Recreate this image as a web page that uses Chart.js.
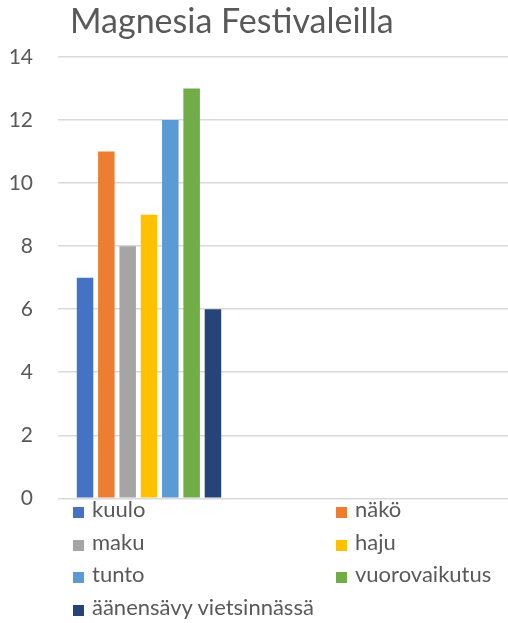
<!DOCTYPE html>
<html>
<head>
<meta charset="utf-8">
<script src="https://cdn.jsdelivr.net/npm/chart.js@4/dist/chart.umd.min.js"></script>
<style>
  html, body { margin: 0; padding: 0; overflow: hidden; background: #fff; width: 508px; height: 623px; }
  #wrap { position: relative; width: 508px; height: 623px; overflow: hidden; }
  #c { position: absolute; left: 0; top: 0; }
  #title { position: absolute; left: 70px; top: 0px; font: 34px Lato, "Open Sans", sans-serif; color: #595959; line-height: 40px; white-space: nowrap; }
  #legend { position: absolute; left: 0; top: 0; width: 508px; height: 623px; pointer-events: none; }
  .li { position: absolute; font: 22px Lato, "Open Sans", sans-serif; color: #595959; line-height: 24px; white-space: nowrap; }
  .li span.box { position: absolute; width: 11px; height: 11px; left: 0; top: 10px; }
  .li span.txt { position: absolute; left: 19px; top: 0; }
</style>
</head>
<body>
<div id="wrap">
  <canvas id="c" width="610" height="536"></canvas>
  <div id="title">Magnesia Festivaleilla</div>
  <div id="legend"></div>
</div>
<script>
const categories = ['', '', ''];
const seriesNames = ['kuulo', 'näkö', 'maku', 'haju', 'tunto', 'vuorovaikutus', 'äänensävy vietsinnässä'];
const kuulo = [7, null, null];
const nako = [11, null, null];
const maku = [8, null, null];
const haju = [9, null, null];
const tunto = [12, null, null];
const vuorovaikutus = [13, null, null];
const aanensavy = [6, null, null];
const yTicks = [0, 2, 4, 6, 8, 10, 12, 14];

const seriesValues = [kuulo, nako, maku, haju, tunto, vuorovaikutus, aanensavy];
const colors = ['#4472C4', '#ED7D31', '#A5A5A5', '#FFC000', '#5B9BD5', '#70AD47', '#264478'];

const datasets = seriesNames.map((n, i) => ({
  label: n,
  data: seriesValues[i],
  backgroundColor: colors[i],
  borderWidth: 0,
  categoryPercentage: 0.82,
  barPercentage: 0.775
}));

new Chart(document.getElementById('c'), {
  type: 'bar',
  data: { labels: categories, datasets },
  options: {
    responsive: false,
    animation: false,
    layout: { padding: { top: 57, bottom: 11, left: 0, right: 6 } },
    plugins: { legend: { display: false }, title: { display: false }, tooltip: { enabled: false } },
    scales: {
      x: {
        grid: { display: false },
        border: { display: false },
        ticks: { display: false },
        afterFit: s => { s.height = 0; }
      },
      y: {
        min: 0, max: 14,
        afterBuildTicks: s => { s.ticks = yTicks.map(v => ({ value: v })); },
        afterFit: s => { s.width = 58; },
        grid: { color: '#D9D9D9', lineWidth: 1.6, drawTicks: false },
        border: { display: false },
        ticks: { padding: 25, color: '#595959', font: { family: 'Lato', size: 21 } }
      }
    }
  }
});

// Legend in two columns
const leg = document.getElementById('legend');
const colX = [73, 336];
const rowY = [497, 530, 562, 595];
seriesNames.forEach((n, i) => {
  const d = document.createElement('div');
  d.className = 'li';
  d.style.left = colX[i % 2] + 'px';
  d.style.top = rowY[Math.floor(i / 2)] + 'px';
  d.innerHTML = '<span class="box" style="background:' + colors[i] + '"></span><span class="txt"></span>';
  d.querySelector('.txt').textContent = n;
  leg.appendChild(d);
});
</script>
</body>
</html>
